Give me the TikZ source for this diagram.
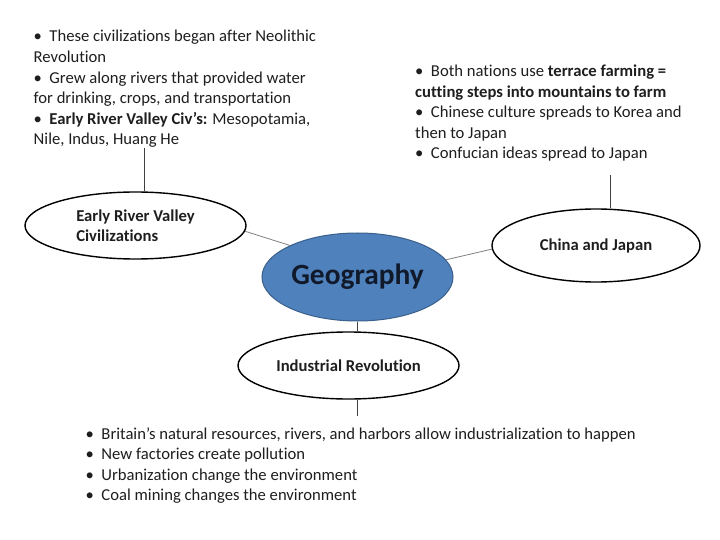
\documentclass[tikz,border=0pt]{standalone}
\usepackage{fontspec}
\setmainfont{Carlito}[Ligatures=NoCommon]
\usetikzlibrary{shapes.geometric}
\definecolor{geofill}{HTML}{4F81BD}
\definecolor{geoline}{HTML}{3A5F8B}
\definecolor{geotext}{HTML}{111A2A}
\definecolor{bodytext}{HTML}{1E1E1E}
\tikzset{
  topic/.style={ellipse, draw=black, line width=1.4bp, fill=white, inner sep=0pt,
    font=\fontsize{16.7}{20}\selectfont\bfseries, text=bodytext},
  note/.style={anchor=base west, inner sep=0pt, font=\fontsize{16.7}{20}\selectfont, text=bodytext},
  link/.style={draw=gray, line width=0.8bp},
  stem/.style={draw=black!75, line width=1bp},
}
\newcommand{\bul}{•\hspace{0.45em}}
\begin{document}
\begin{tikzpicture}[x=1bp,y=-1bp]
  \useasboundingbox (0,0) rectangle (720,540);
  \node[ellipse, draw=geoline, line width=1bp, fill=geofill, minimum width=191bp, minimum height=88bp,
    inner sep=0pt, font=\fontsize{29.5}{30}\selectfont\bfseries, text=geotext] (geo) at (357.5,277) {Geography};
  \node[topic, minimum width=221bp, minimum height=67bp, align=left] (erv) at (135.5,225.5) {Early River Valley\\Civilizations};
  \node[topic, minimum width=208bp, minimum height=73bp] (cj) at (596,245.5) {China and Japan};
  \node[topic, minimum width=221bp, minimum height=67bp] (ir) at (348.5,365.5) {Industrial Revolution};

  \node[note] (erv1) at (33.5,42) {\bul These civilizations began after Neolithic};
  \node[note] (erv2) at (33.5,62.6) {Revolution};
  \node[note] (erv3) at (33.5,83.2) {\bul Grew along rivers that provided water};
  \node[note] (erv4) at (33.5,103.8) {for drinking, crops, and transportation};
  \node[note] (erv5) at (33.5,124.4) {\bul \textbf{Early River Valley Civ’s:} Mesopotamia,};
  \node[note] (erv6) at (33.5,145) {Nile, Indus, Huang He};

  \node[note] (cj1) at (415,77) {\bul Both nations use \textbf{terrace farming =}};
  \node[note] (cj2) at (415,97.5) {\textbf{cutting steps into mountains to farm}};
  \node[note] (cj3) at (415,118) {\bul Chinese culture spreads to Korea and};
  \node[note] (cj4) at (415,138.5) {then to Japan};
  \node[note] (cj5) at (415,159) {\bul Confucian ideas spread to Japan};

  \node[note] (ir1) at (85.5,439.3) {\bul Britain’s natural resources, rivers, and harbors allow industrialization to happen};
  \node[note] (ir2) at (85.5,459.8) {\bul New factories create pollution};
  \node[note] (ir3) at (85.5,480.3) {\bul Urbanization change the environment};
  \node[note] (ir4) at (85.5,500.8) {\bul Coal mining changes the environment};

  \coordinate (ervtop) at (144,148);
  \coordinate (cjtop) at (610,175);
  \coordinate (irend) at (357,416);
  \draw[stem] (ervtop) -- (ervtop |- erv.north);
  \draw[stem] (cjtop) -- (cjtop |- cj.north);
  \draw[stem] (geo.south) -- (geo.south |- ir.north);
  \draw[stem] (irend |- ir.south) -- (irend);
  \draw[link] (erv.-3) -- (geo.155);
  \draw[link] (cj.182) -- (geo.11);
\end{tikzpicture}
\end{document}
